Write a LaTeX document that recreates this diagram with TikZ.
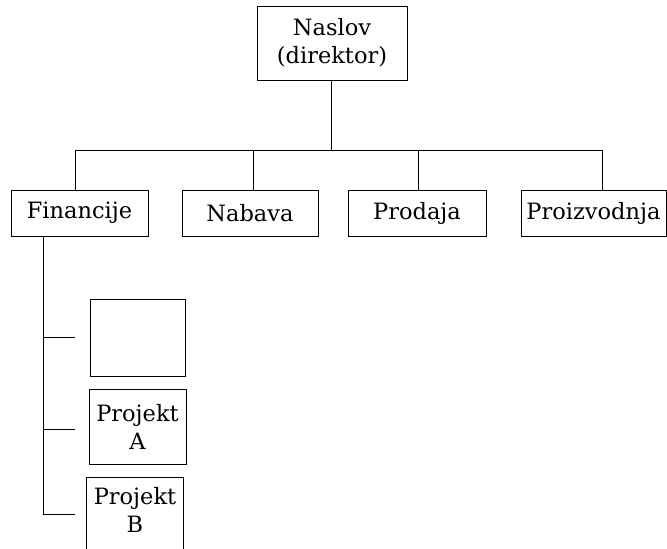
\documentclass[tikz,border=0pt]{standalone}
\usepackage{fontspec}
\setmainfont{DejaVu Serif}
\begin{document}
\begin{tikzpicture}[x=1pt,y=-1pt,
  line width=1pt,
  unit/.style={draw, inner sep=0pt, align=center, font=\fontsize{22.5}{28}\selectfont},
  wire/.style={draw, line width=1pt}]
\useasboundingbox (0,0) rectangle (667,549);
\clip (0,0) rectangle (667,549);
% top of the hierarchy
\node[unit, minimum width=150, minimum height=74] (head) at (332,43) {Naslov\\(direktor)};
% departments
\node[unit, minimum width=137, minimum height=46] (fin)  at (79.5,213) {Financije};
\node[unit, minimum width=136, minimum height=46] (nab)  at (250,213) {Nabava};
\node[unit, minimum width=138, minimum height=46] (prod) at (417,213) {Prodaja};
\node[unit, minimum width=145, minimum height=46] (proi) at (593.5,213) {Proizvodnja};
% projects under finance
\node[unit, minimum width=95, minimum height=77]  (p0) at (137.5,337.5) {};
\node[unit, minimum width=97, minimum height=75]  (pA) at (137.5,426.5) {Projekt\\A};
% the last project box runs past the bottom edge
\node[unit, draw=none, minimum width=96, minimum height=62] (pB) at (135,510) {Projekt\\B};
\draw[wire] (pB.south west |- 0,560) -- (pB.north west |- 0,477) -- (pB.north east |- 0,477) -- (pB.south east |- 0,560);
% bus from the head to the departments
\coordinate (bus) at (331,150);
\coordinate (b1) at (75,150);
\coordinate (b2) at (253,150);
\coordinate (b3) at (418,150);
\coordinate (b4) at (602,150);
\draw[wire] (head.south -| bus) -- (bus);
\draw[wire] (b1) -- (b4);
\draw[wire] (b1) -- (b1 |- fin.north);
\draw[wire] (b2) -- (b2 |- nab.north);
\draw[wire] (b3) -- (b3 |- prod.north);
\draw[wire] (b4) -- (b4 |- proi.north);
% finance spine and its branches
\coordinate (s0) at (43,0);
\coordinate (t0) at (43,337);
\coordinate (t1) at (43,429);
\coordinate (t2) at (43,514);
\draw[wire] (s0 |- fin.south) -- (t2);
\draw[wire] (t0) -- ++(32,0);
\draw[wire] (t1) -- ++(32,0);
\draw[wire] (t2) -- ++(32,0);
\end{tikzpicture}
\end{document}
